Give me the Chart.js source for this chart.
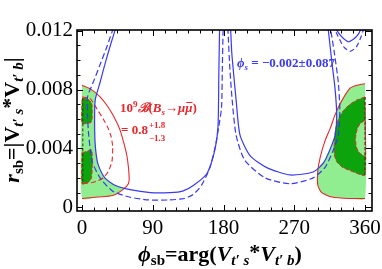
<!DOCTYPE html>
<html><head><meta charset="utf-8">
<script src="https://cdn.jsdelivr.net/npm/chart.js@4"></script>
<style>html,body{margin:0;padding:0;background:#fff}</style>
</head><body>
<canvas id="c" width="382" height="269"></canvas>
<script>
// tick labels
const xTicks = [0, 90, 180, 270, 360]
const yTicks = [0, 0.004, 0.008, 0.012]

// phi_s constraint (blue), solid and dashed
const blueSolidLeftPhi = [43, 36, 29.5, 23, 16.8, 16, 16.5, 18, 20.5, 29, 42, 61, 87, 112, 128, 142, 159, 169, 173, 174, 175]
const blueSolidLeftR = [0.0122, 0.0110, 0.0098, 0.0085, 0.0073, 0.0060, 0.0045, 0.0036, 0.0029, 0.0020, 0.0015, 0.0012, 0.0010, 0.0010, 0.0011, 0.0015, 0.0023, 0.0039, 0.0055, 0.0090, 0.0122]
const blueDashLeftPhi = [40, 31.5, 23, 15, 7, 7, 8.5, 13, 23, 39, 60, 85, 110, 130, 142, 152, 162, 169, 174, 177.5, 178.5, 179.5]
const blueDashLeftR = [0.0122, 0.0109, 0.0097, 0.0086, 0.0075, 0.0062, 0.0049, 0.0031, 0.0020, 0.0011, 0.0007, 0.0005, 0.0005, 0.0006, 0.0009, 0.0015, 0.0026, 0.0040, 0.0055, 0.0068, 0.0095, 0.0122]
const blueSolidRightPhi = [189, 190.5, 193, 196, 201, 214, 235, 265, 294, 307, 316, 322, 324, 322, 318, 313]
const blueSolidRightR = [0.0122, 0.0105, 0.0090, 0.0073, 0.0049, 0.0035, 0.0027, 0.0022, 0.0024, 0.0030, 0.0040, 0.0049, 0.0062, 0.0080, 0.0098, 0.0122]
const blueDashRightPhi = [185.5, 188, 191, 196, 207, 233, 265, 294, 309, 319, 326, 328, 326, 321, 316]
const blueDashRightR = [0.0122, 0.0095, 0.0073, 0.0049, 0.0032, 0.0020, 0.0016, 0.0020, 0.0027, 0.0038, 0.0049, 0.0066, 0.0085, 0.0105, 0.0122]
const blueSolidTopPhi = [321, 327, 333, 339, 346, 352, 356]
const blueSolidTopR = [0.0123, 0.0118, 0.01145, 0.01125, 0.01145, 0.0118, 0.0123]
const blueDashTopPhi = [319, 325, 333, 341, 349, 355, 360]
const blueDashTopR = [0.0124, 0.0117, 0.0109, 0.0106, 0.0109, 0.0116, 0.0124]

// B_s -> mu mu constraint (red)
const redSolidLeftPhi = [0, 12, 23, 32, 39, 48, 55, 58, 60, 59, 52, 39, 20, 0]
const redSolidLeftR = [0.0083, 0.0080, 0.0075, 0.0069, 0.0063, 0.0053, 0.0040, 0.0032, 0.0020, 0.0016, 0.0012, 0.0008, 0.0007, 0.0006]
const redDashLeftPhi = [0, 10, 20, 27, 33, 37, 39, 38, 33, 27, 20, 14, 7, 0]
const redDashLeftR = [0.0075, 0.0074, 0.0066, 0.0060, 0.0054, 0.0048, 0.0041, 0.0031, 0.0024, 0.0020, 0.0018, 0.0017, 0.00165, 0.0016]
const redSolidRightPhi = [360, 350, 341, 330, 322, 316, 309, 303, 300, 300, 305, 318, 340, 360]
const redSolidRightR = [0.0084, 0.0083, 0.0081, 0.0072, 0.0063, 0.0054, 0.0045, 0.0034, 0.0025, 0.0015, 0.0010, 0.0007, 0.0006, 0.0006]

// allowed regions
const lightLeftPhi = [0, 12, 18.5, 16.8, 16, 16.5, 18, 20.5, 29, 42, 53, 39, 20, 0, 0]
const lightLeftR = [0.0083, 0.0080, 0.0077, 0.0073, 0.0060, 0.0045, 0.0036, 0.0029, 0.0020, 0.0015, 0.0013, 0.0008, 0.0007, 0.0006, 0.0083]
const darkLeftUpPhi = [0, 6, 12, 13, 12, 6, 0, 0]
const darkLeftUpR = [0.0074, 0.0074, 0.0071, 0.0065, 0.0058, 0.0057, 0.0057, 0.0074]
const darkLeftLowPhi = [0, 6, 12, 13, 12, 8, 0, 0]
const darkLeftLowR = [0.0037, 0.0038, 0.0039, 0.0030, 0.0020, 0.0017, 0.0016, 0.0037]
const lightRightPhi = [360, 350, 341, 333, 326, 324, 323, 322, 316, 309, 303, 300, 300, 305, 318, 340, 360, 360]
const lightRightR = [0.0084, 0.0083, 0.0081, 0.0075, 0.0068, 0.0062, 0.0055, 0.0049, 0.0040, 0.0032, 0.0029, 0.0025, 0.0015, 0.0010, 0.0007, 0.0006, 0.0006, 0.0084]
const darkRightPhi = [360, 350, 341, 333, 327, 323, 321, 321, 324, 332, 341, 350, 360, 360]
const darkRightR = [0.0075, 0.0073, 0.0070, 0.0066, 0.0061, 0.0054, 0.0045, 0.0036, 0.0031, 0.0027, 0.0025, 0.0023, 0.0022, 0.0075]
const holeRightPhi = [360, 354, 350, 348, 349, 353, 360, 360]
const holeRightR = [0.0059, 0.0057, 0.0053, 0.0047, 0.0041, 0.0037, 0.0035, 0.0059]
const edgeLeftPhi = [1, 1]
const edgeLeftR = [0.0074, 0.0017]
const edgeRightPhi = [360, 360]
const edgeRightR = [0.0075, 0.0022]

const SERIF = '"Liberation Serif", "DejaVu Serif", serif'
const RED = '#e8262b'
const BLUE = '#3a3af0'
const LIGHT = '#90ee90'
const DARK = '#0ca30c'

function pts(phi, r) { return phi.map((p, i) => ({ x: p, y: r[i] })) }

function curve(phi, r, color, dash, width) {
  return { data: pts(phi, r), borderColor: color, borderWidth: width || 1.2, borderDash: dash || [],
    fill: false, pointRadius: 0, tension: 0.22 }
}
function region(phi, r, color, border, dash) {
  return { data: pts(phi, r), backgroundColor: color, borderColor: border || color, borderWidth: border ? 1 : 0,
    borderDash: dash || [], fill: 'shape', pointRadius: 0, tension: 0.22 }
}

function richText(c, segs, x, y, align) {
  let w = 0
  for (const s of segs) { c.font = s.f; s.w = c.measureText(s.t).width; w += s.w }
  let cx = align === 'center' ? x - w / 2 : x
  for (const s of segs) {
    c.font = s.f
    c.fillText(s.t, cx, y + (s.dy || 0))
    if (s.over) c.fillRect(cx + 1, y - 10, s.w - 1, 1)
    cx += s.w
  }
  return cx
}

const b22 = `bold 22px ${SERIF}`, bi22 = `italic bold 22px ${SERIF}`
const b15 = `bold 15px ${SERIF}`, bi15 = `italic bold 15px ${SERIF}`
const b13 = `bold 13px ${SERIF}`, bi13 = `italic bold 13px ${SERIF}`
const b9 = `bold 9px ${SERIF}`, bi9 = `italic bold 9px ${SERIF}`

const framePlugin = {
  id: 'frame',
  afterDraw(chart) {
    const c = chart.ctx, a = chart.chartArea
    const xs = chart.scales.x, ys = chart.scales.y
    c.save()
    c.strokeStyle = '#000'
    c.lineWidth = 1.6
    c.strokeRect(a.left, a.top, a.right - a.left, a.bottom - a.top)
    c.lineWidth = 1
    c.beginPath()
    for (let v = 0; v <= 360; v += 15) {
      const px = Math.round(xs.getPixelForValue(v)) + 0.5
      const len = v % 90 === 0 ? 6 : 3.5
      c.moveTo(px, a.bottom); c.lineTo(px, a.bottom - len)
      c.moveTo(px, a.top); c.lineTo(px, a.top + len)
    }
    for (let i = 0; i <= 12; i++) {
      const py = Math.round(ys.getPixelForValue(i * 0.001)) + 0.5
      const len = i % 4 === 0 ? 6 : 3.5
      c.moveTo(a.left, py); c.lineTo(a.left + len, py)
      c.moveTo(a.right, py); c.lineTo(a.right - len, py)
    }
    c.stroke()

    // axis titles
    c.fillStyle = '#000'
    c.textBaseline = 'alphabetic'
    richText(c, [
      { t: 'ϕ', f: bi22 }, { t: 'sb', f: b15, dy: 4 }, { t: '=arg(', f: b22 },
      { t: 'V', f: bi22 }, { t: 't′ s', f: bi15, dy: 4 }, { t: '*', f: b22, dy: -2 },
      { t: 'V', f: bi22 }, { t: 't′ b', f: bi15, dy: 4 }, { t: ')', f: b22 }
    ], 220, 261, 'center')
    c.save()
    c.translate(19, 120)
    c.rotate(-Math.PI / 2)
    richText(c, [
      { t: 'r', f: bi22 }, { t: 'sb', f: b15, dy: 4 }, { t: '=|V', f: b22 },
      { t: 't′ s', f: bi15, dy: 4 }, { t: '*', f: b22, dy: -2 }, { t: 'V', f: b22 },
      { t: 't′ b', f: bi15, dy: 4 }, { t: '|', f: b22 }
    ], 0, 0, 'center')
    c.restore()

    // annotations
    c.fillStyle = RED
    richText(c, [
      { t: '10', f: b13 }, { t: '9', f: b9, dy: -5 }, { t: 'ℬ', f: bi13 }, { t: '(', f: b13 },
      { t: 'B', f: bi13 }, { t: 's', f: bi9, dy: 3 }, { t: '→', f: b13 }, { t: 'μ', f: bi13 },
      { t: 'μ', f: bi13, over: true }, { t: ')', f: b13 }
    ], 120, 112, 'left')
    const ex = richText(c, [{ t: '= 0.8', f: b13 }], 121, 134, 'left')
    c.font = b9
    c.fillText('+1.8', ex + 1, 128)
    c.fillText('−1.3', ex + 1, 141)

    c.fillStyle = BLUE
    richText(c, [
      { t: 'ϕ', f: bi13 }, { t: 's', f: bi9, dy: 3 }, { t: ' = −0.002±0.087', f: b13 }
    ], 237, 67, 'left')
    c.restore()
  }
}

new Chart(document.getElementById('c'), {
  type: 'line',
  data: {
    datasets: [
      curve(blueSolidTopPhi, blueSolidTopR, BLUE),
      curve(blueDashTopPhi, blueDashTopR, BLUE, [5, 3]),
      curve(blueSolidLeftPhi, blueSolidLeftR, BLUE),
      curve(blueDashLeftPhi, blueDashLeftR, BLUE, [6, 3]),
      curve(blueSolidRightPhi, blueSolidRightR, BLUE),
      curve(blueDashRightPhi, blueDashRightR, BLUE, [6, 3]),
      curve(redSolidLeftPhi, redSolidLeftR, RED, [], 1.1),
      curve(redDashLeftPhi, redDashLeftR, RED, [5, 3], 1.1),
      curve(redSolidRightPhi, redSolidRightR, RED, [], 1.1),
      curve(edgeLeftPhi, edgeLeftR, '#1d3d1d', [3, 2], 1),
      curve(edgeRightPhi, edgeRightR, '#1d3d1d', [3, 2], 1),
      region(holeRightPhi, holeRightR, LIGHT, RED, [4, 2]),
      region(darkRightPhi, darkRightR, DARK, RED, [4, 2]),
      region(lightRightPhi, lightRightR, LIGHT),
      region(darkLeftUpPhi, darkLeftUpR, DARK, RED, [4, 2]),
      region(darkLeftLowPhi, darkLeftLowR, DARK, RED, [4, 2]),
      region(lightLeftPhi, lightLeftR, LIGHT)
    ]
  },
  options: {
    responsive: false,
    animation: false,
    events: [],
    layout: { padding: { left: 0, right: 10, top: 30, bottom: 0 } },
    plugins: { legend: { display: false }, tooltip: { enabled: false } },
    scales: {
      x: {
        type: 'linear', min: -6.4, max: 368.9,
        grid: { display: false, drawTicks: false }, border: { display: false },
        afterBuildTicks: s => { s.ticks = xTicks.map(v => ({ value: v })) },
        afterFit: s => { s.height = 58; s.paddingLeft = 0; s.paddingRight = 0 },
        ticks: { font: { family: 'Liberation Serif', size: 21 }, color: '#000', padding: 5, maxRotation: 0, autoSkip: false }
      },
      y: {
        type: 'linear', min: -0.00025, max: 0.01205,
        grid: { display: false, drawTicks: false }, border: { display: false },
        afterBuildTicks: s => { s.ticks = yTicks.map(v => ({ value: v })) },
        afterFit: s => { s.width = 77; s.paddingTop = 0; s.paddingBottom = 0 },
        ticks: { font: { family: 'Liberation Serif', size: 21 }, color: '#000', padding: 4, autoSkip: false,
          callback: v => v === 0 ? '0' : v.toFixed(3) }
      }
    }
  },
  plugins: [framePlugin]
})
</script>
</body></html>
